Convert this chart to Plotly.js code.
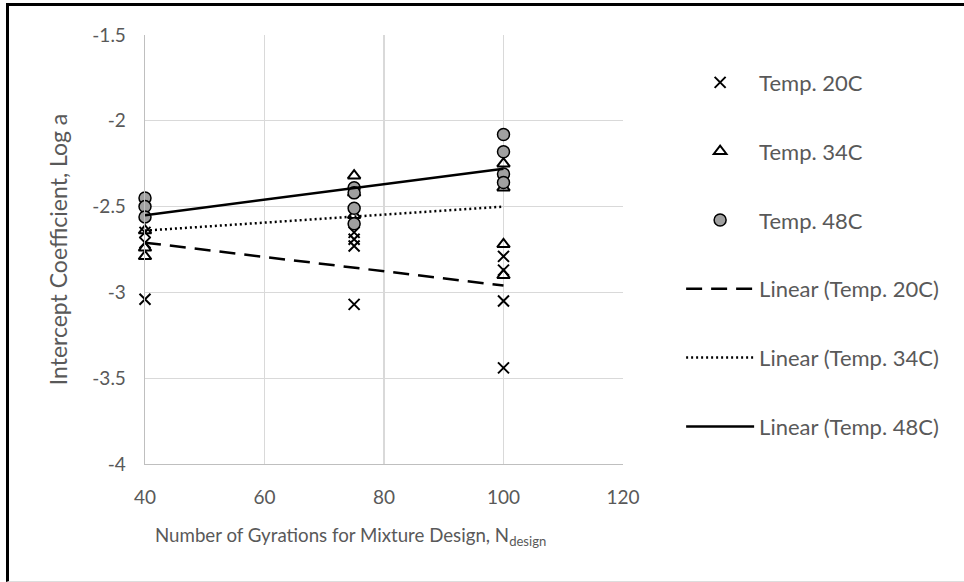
<!DOCTYPE html>
<html>
<head>
<meta charset="utf-8">
<script src="https://cdn.plot.ly/plotly-3.0.1.min.js"></script>
<style>
  html, body { margin: 0; padding: 0; background: #fff; overflow: hidden; width: 964px; height: 582px; }
  #chart { position: absolute; left: 0; top: 0; width: 964px; height: 582px; }
  #frame { position: absolute; left: 6px; top: 3px; width: 955px; height: 575px;
           border-left: 3px solid #000; border-top: 3px solid #000; border-bottom: 1px solid #ddd;
           pointer-events: none; }
</style>
</head>
<body>
<div id="chart"></div>
<div id="frame"></div>
<script>
// Temp. 20C (x markers)
const x20 = [40, 40, 40, 75, 75, 75, 75, 100, 100, 100, 100];
const y20 = [-2.65, -2.71, -3.04, -2.65, -2.69, -2.73, -3.07, -2.79, -2.87, -3.05, -3.44];
// Temp. 34C (open triangles)
const x34 = [40, 40, 40, 75, 75, 75, 100, 100, 100, 100];
const y34 = [-2.64, -2.74, -2.79, -2.32, -2.42, -2.55, -2.25, -2.39, -2.72, -2.90];
// Temp. 48C (grey circles)
const x48 = [40, 40, 40, 75, 75, 75, 75, 100, 100, 100, 100];
const y48 = [-2.45, -2.50, -2.56, -2.39, -2.42, -2.51, -2.60, -2.08, -2.18, -2.31, -2.36];
// Linear trend lines (end points)
const trendX = [40, 100];
const trend20 = [-2.71, -2.96];
const trend34 = [-2.64, -2.50];
const trend48 = [-2.55, -2.28];
// Axis ticks
const yTickVals = [-4, -3.5, -3, -2.5, -2, -1.5];
const yTickText = ['-4', '-3.5', '-3', '-2.5', '-2', '-1.5'];
const xTickVals = [40, 60, 80, 100, 120];
const xTitle = 'Number of Gyrations for Mixture Design, N<sub>design</sub>';
const yTitle = 'Intercept Coefficient, Log a';

const FONT = 'Lato, "Open Sans", sans-serif';
const GREY = '#595959';

const traces = [
  { x: x20, y: y20, name: 'Temp. 20C', type: 'scatter', mode: 'markers', legendgroup: 'a', cliponaxis: false,
    marker: { symbol: 'x-thin', size: 11, color: '#000', line: { color: '#000', width: 2 } } },
  { x: x34, y: y34, name: 'Temp. 34C', type: 'scatter', mode: 'markers', legendgroup: 'b', cliponaxis: false,
    marker: { symbol: 'triangle-up-open', size: 11, color: '#000', line: { color: '#000', width: 2 } } },
  { x: x48, y: y48, name: 'Temp. 48C', type: 'scatter', mode: 'markers', legendgroup: 'c', cliponaxis: false,
    marker: { symbol: 'circle', size: 12, color: '#a0a0a0', line: { color: '#000', width: 1.5 } } },
  { x: trendX, y: trend20, name: 'Linear (Temp. 20C)', type: 'scatter', mode: 'lines', legendgroup: 'd',
    line: { color: '#000', width: 2.5, dash: '16px,9px' } },
  { x: trendX, y: trend34, name: 'Linear (Temp. 34C)', type: 'scatter', mode: 'lines', legendgroup: 'e',
    line: { color: '#000', width: 2.5, dash: '2px,3px' } },
  { x: trendX, y: trend48, name: 'Linear (Temp. 48C)', type: 'scatter', mode: 'lines', legendgroup: 'f',
    line: { color: '#000', width: 2.5 } }
];

const layout = {
  width: 964, height: 582,
  paper_bgcolor: '#fff', plot_bgcolor: '#fff',
  margin: { l: 145, r: 341, t: 35, b: 118 },
  font: { family: FONT, color: GREY, size: 15 },
  showlegend: true,
  legend: {
    x: 1.1216, xanchor: 'left', y: 0.938, yanchor: 'top',
    orientation: 'v', tracegroupgap: 37.2, itemwidth: 68,
    font: { family: FONT, size: 22, color: GREY },
    bgcolor: 'rgba(0,0,0,0)'
  },
  xaxis: {
    range: [40, 120], tickvals: xTickVals, showgrid: true, gridcolor: '#d9d9d9', gridwidth: 1.3,
    zeroline: false, showline: true, linecolor: '#bfbfbf', linewidth: 1.3, ticks: '',
    ticklabelstandoff: 16, tickfont: { family: FONT, size: 19, color: GREY }
  },
  yaxis: {
    range: [-4, -1.5], tickvals: yTickVals, ticktext: yTickText, showgrid: true, gridcolor: '#d9d9d9', gridwidth: 1.3,
    zeroline: false, showline: true, linecolor: '#bfbfbf', linewidth: 1.3, ticks: '',
    ticklabelstandoff: 14, tickfont: { family: FONT, size: 19, color: GREY },
    title: { text: yTitle, font: { family: FONT, size: 23, color: GREY }, standoff: 18 }
  },
  annotations: [
    { text: xTitle, xref: 'paper', yref: 'paper', x: 0.0168, y: -0.17, xanchor: 'left', yanchor: 'middle',
      showarrow: false, font: { family: FONT, size: 18.7, color: GREY } }
  ]
};

Plotly.newPlot('chart', traces, layout, { displayModeBar: false, staticPlot: true });
</script>
</body>
</html>
